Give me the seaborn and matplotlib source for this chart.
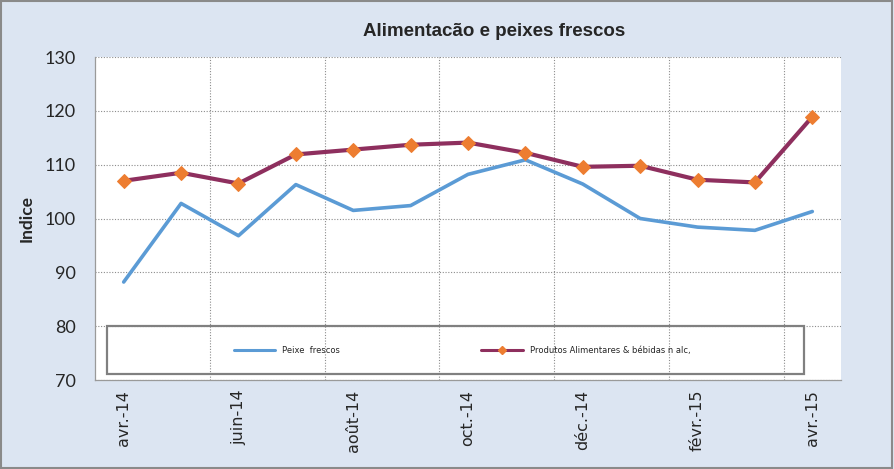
import matplotlib
matplotlib.use("Agg")
import matplotlib.pyplot as plt
from matplotlib.patches import Rectangle
from matplotlib.lines import Line2D
import seaborn as sns
import pandas as pd
import numpy as np

months = ["avr.-14", "mai-14", "juin-14", "juil.-14", "août-14", "sept.-14", "oct.-14",
          "nov.-14", "déc.-14", "janv.-15", "févr.-15", "mars-15", "avr.-15"]
peixe = [88.2, 102.8, 96.8, 106.3, 101.5, 102.4, 108.2, 110.9, 106.4, 100.0, 98.4, 97.8, 101.3]
produtos = [107.0, 108.5, 106.5, 111.9, 112.8, 113.7, 114.1, 112.2, 109.6, 109.8, 107.2, 106.7, 118.9]
series_names = ["Peixe  frescos", "Produtos Alimentares & bébidas n alc,"]
title = "Alimentacão e peixes frescos"
ylabel = "Indice"

sns.set_theme(style="white")
plt.rcParams['font.family'] = ['DejaVu Sans']

W, H = 894, 469
fig = plt.figure(figsize=(W / 100, H / 100), dpi=100)
bg = "#DCE5F2"
fig.patch.set_facecolor(bg)

def fx(px):
    return px / W

def fy(py):
    return 1 - py / H

ax = fig.add_axes([fx(95), fy(380), fx(841) - fx(95), fy(57) - fy(380)])
ax.set_facecolor("white")

idx = np.arange(len(months))
df = pd.DataFrame({"i": np.concatenate([idx, idx]),
                   "v": peixe + produtos,
                   "s": [series_names[0]] * len(idx) + [series_names[1]] * len(idx)})

blue = "#5B9BD5"
purple = "#8E2F5E"
orange = "#ED7D31"

sns.lineplot(data=df[df.s == series_names[0]], x="i", y="v", color=blue, lw=2.6, ax=ax,
             legend=False)
sns.lineplot(data=df[df.s == series_names[1]], x="i", y="v", color=purple, lw=3.0, ax=ax,
             legend=False, marker="D", markersize=7, markerfacecolor=orange,
             markeredgecolor=orange)

ax.set_xlim(-0.5, len(months) - 0.5)
ax.set_ylim(70, 130)
ax.set_yticks(np.arange(70, 131, 10))
ax.set_xticks(idx[::2])
ax.set_xticklabels([months[i] for i in idx[::2]], rotation=90, fontsize=11.5,
                   family="DejaVu Sans")
ax.set_xticks(np.arange(1.5, len(months) - 1, 2), minor=True)
for lab in ax.get_yticklabels():
    lab.set_family("Lato")
    lab.set_fontsize(13)
ax.tick_params(axis="y", length=0, pad=14)
ax.tick_params(axis="x", which="both", length=0, pad=7)
ax.set_xlabel("")
ax.set_ylabel("")

ax.grid(False)
ax.yaxis.grid(True, color="#8C8C8C", ls=(0, (1, 1.5)), lw=0.8)
ax.xaxis.grid(True, which="minor", color="#8C8C8C", ls=(0, (1, 1.5)), lw=0.8)
ax.set_axisbelow(True)
for side in ["top", "right"]:
    ax.spines[side].set_visible(False)
for side in ["left", "bottom"]:
    ax.spines[side].set_color("#9A9A9A")
    ax.spines[side].set_linewidth(0.9)

fig.text(fx(494), fy(31), title, ha="center", va="center", fontsize=13.5,
         fontweight="bold", family="Liberation Sans")
fig.text(fx(27), fy(218), ylabel, ha="center", va="center", rotation=90, fontsize=12.5,
         fontweight="bold", family="Lato")

# legend box
fig.patches.append(Rectangle((fx(107), fy(374)), fx(804) - fx(107), fy(326) - fy(374),
                             transform=fig.transFigure, fill=False, edgecolor="#808080",
                             lw=1.6, zorder=5))
handles = [Line2D([], [], color=blue, lw=2.2),
           Line2D([], [], color=purple, lw=2.2, marker="D", markersize=4,
                  markerfacecolor=orange, markeredgecolor=orange)]
fig.legend(handles, series_names, loc="center", bbox_to_anchor=(fx(462), fy(350)),
           ncol=2, frameon=False, fontsize=6, handlelength=5, handletextpad=0.8,
           columnspacing=17)

# outer border
fig.patches.append(Rectangle((0.001, 0.002), 0.997, 0.995, transform=fig.transFigure,
                             fill=False, edgecolor="#8A8A8A", lw=1.5, zorder=10))

fig.savefig("out.png", dpi=100, facecolor=bg)
